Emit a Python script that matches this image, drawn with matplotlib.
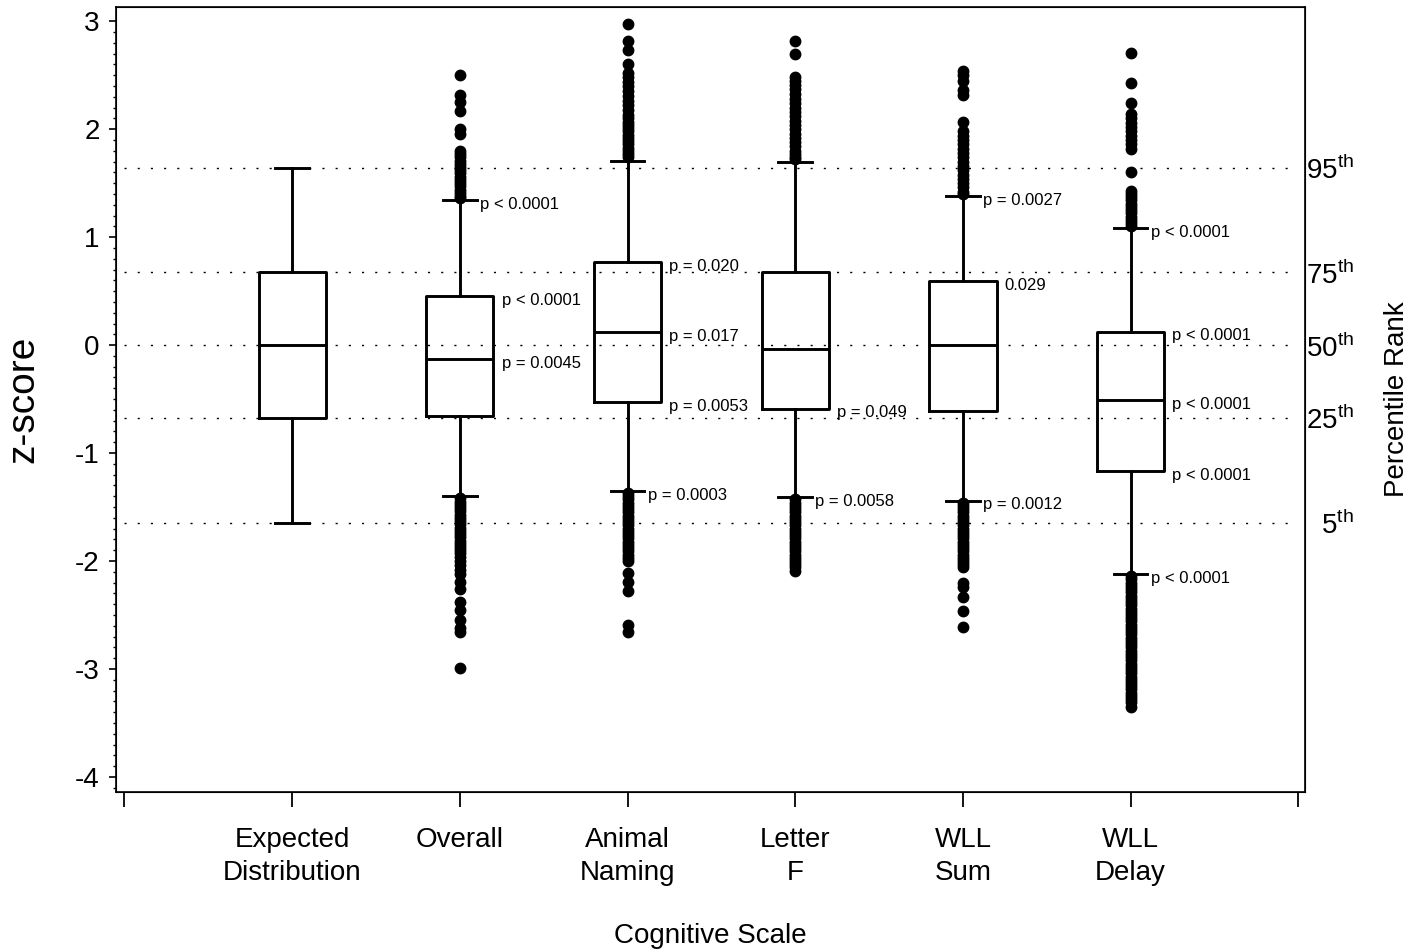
import matplotlib
matplotlib.use("Agg")
import matplotlib.pyplot as plt

plt.rcParams["font.family"] = ["Liberation Sans", "DejaVu Sans"]
plt.rcParams["mathtext.fontset"] = "custom"
plt.rcParams["mathtext.rm"] = "Liberation Sans"

# scales on the x axis (positions 1..6)
scales = ["Expected\nDistribution", "Overall", "Animal\nNaming", "Letter\nF", "WLL\nSum", "WLL\nDelay"]

# box statistics
whislo = [-1.645, -1.40, -1.35, -1.41, -1.44, -2.12]
q1 = [-0.674, -0.655, -0.53, -0.59, -0.61, -1.17]
med = [0.0, -0.13, 0.12, -0.04, 0.0, -0.51]
q3 = [0.674, 0.455, 0.77, 0.68, 0.59, 0.125]
whishi = [1.645, 1.345, 1.71, 1.70, 1.38, 1.085]

# outliers per scale
fliers_expected = []
fliers_overall = [2.50, 2.32, 2.25, 2.17, 2.00, 1.96, 1.80, 1.77, 1.74, 1.71, 1.68, 1.65,
                  1.62, 1.59, 1.56, 1.53, 1.50, 1.47, 1.44, 1.41, 1.38, 1.36,
                  -1.42, -1.45, -1.48, -1.51, -1.54, -1.57, -1.60, -1.63, -1.66, -1.69,
                  -1.72, -1.75, -1.78, -1.81, -1.84, -1.87, -1.90, -1.93, -1.96, -2.00,
                  -2.04, -2.08, -2.12, -2.19, -2.26, -2.38, -2.45, -2.55, -2.62, -2.66, -2.99]
fliers_animal = [2.97, 2.82, 2.73, 2.60, 2.52, 2.48, 2.44, 2.40, 2.35, 2.31, 2.26, 2.22,
                 2.18, 2.13, 2.10, 2.07, 2.04, 2.01, 1.98, 1.95, 1.92, 1.89, 1.86, 1.83,
                 1.80, 1.77, 1.74,
                 -1.37, -1.40, -1.43, -1.46, -1.49, -1.52, -1.55, -1.58, -1.61, -1.64,
                 -1.67, -1.70, -1.73, -1.76, -1.79, -1.82, -1.85, -1.88, -1.91, -1.94,
                 -1.97, -2.00, -2.11, -2.19, -2.28, -2.59, -2.66]
fliers_letter = [2.82, 2.70, 2.48, 2.45, 2.41, 2.37, 2.33, 2.28, 2.24, 2.20, 2.16, 2.12,
                 2.08, 2.04, 2.00, 1.96, 1.92, 1.88, 1.84, 1.80, 1.77, 1.74, 1.72,
                 -1.43, -1.46, -1.49, -1.52, -1.55, -1.58, -1.61, -1.64, -1.67, -1.70,
                 -1.73, -1.76, -1.79, -1.82, -1.85, -1.88, -1.91, -1.94, -1.97, -2.00,
                 -2.03, -2.06, -2.09]
fliers_sum = [2.54, 2.50, 2.45, 2.36, 2.32, 2.07, 1.98, 1.94, 1.90, 1.86, 1.82, 1.78,
              1.74, 1.70, 1.66, 1.62, 1.58, 1.54, 1.50, 1.46, 1.42, 1.40,
              -1.46, -1.49, -1.52, -1.55, -1.58, -1.61, -1.64, -1.67, -1.70, -1.73,
              -1.76, -1.79, -1.82, -1.85, -1.88, -1.91, -1.94, -1.97, -2.00, -2.03,
              -2.06, -2.20, -2.24, -2.33, -2.46, -2.61]
fliers_delay = [2.71, 2.43, 2.24, 2.14, 2.10, 2.06, 2.02, 1.98, 1.94, 1.90, 1.86, 1.82,
                1.60, 1.43, 1.40, 1.37, 1.34, 1.31, 1.28, 1.25, 1.22, 1.19, 1.16, 1.13, 1.10,
                -2.14, -2.17, -2.20, -2.23, -2.26, -2.29, -2.32, -2.35, -2.38, -2.41,
                -2.44, -2.47, -2.50, -2.53, -2.56, -2.59, -2.62, -2.65, -2.68, -2.71,
                -2.74, -2.77, -2.80, -2.83, -2.86, -2.89, -2.92, -2.95, -2.98, -3.01,
                -3.04, -3.07, -3.10, -3.13, -3.16, -3.19, -3.22, -3.25, -3.28, -3.31, -3.35]
fliers = [fliers_expected, fliers_overall, fliers_animal, fliers_letter, fliers_sum, fliers_delay]

# reference percentiles of the standard normal
pct_z = [1.645, 0.674, 0.0, -0.674, -1.645]
pct_labels = ["95", "75", "50", "25", "5"]

# p-value notes: (scale index, statistic, text)
notes = [
    (1, "whishi", "p < 0.0001"), (1, "q3", "p < 0.0001"), (1, "med", "p = 0.0045"),
    (2, "q3", "p = 0.020"), (2, "med", "p = 0.017"), (2, "q1", "p = 0.0053"),
    (2, "whislo", "p = 0.0003"),
    (3, "q1", "p = 0.049"), (3, "whislo", "p = 0.0058"),
    (4, "whishi", "p = 0.0027"), (4, "q3", "0.029"), (4, "whislo", "p = 0.0012"),
    (5, "whishi", "p < 0.0001"), (5, "q3", "p < 0.0001"), (5, "med", "p < 0.0001"),
    (5, "q1", "p < 0.0001"), (5, "whislo", "p < 0.0001"),
]

stats = []
for i in range(len(scales)):
    stats.append(dict(whislo=whislo[i], q1=q1[i], med=med[i], q3=q3[i],
                      whishi=whishi[i], fliers=fliers[i]))

fig = plt.figure(figsize=(14.24, 9.49), dpi=100)
ax = fig.add_axes([0.0815, 0.1654, 0.835, 0.827])
positions = list(range(1, len(scales) + 1))

for z in pct_z:
    ax.plot([0, 7], [z, z], color="black", lw=1.0, linestyle=(0, (1.5, 8)), zorder=1)

lw = 2.1
ax.bxp(stats, positions=positions, widths=0.4, capwidths=0.2, manage_ticks=False,
       boxprops=dict(color="black", linewidth=lw),
       whiskerprops=dict(color="black", linewidth=lw),
       capprops=dict(color="black", linewidth=lw),
       medianprops=dict(color="black", linewidth=lw),
       flierprops=dict(marker="o", markerfacecolor="black", markeredgecolor="black",
                       markersize=7.5, linestyle="none"),
       zorder=2)

for idx, stat, txt in notes:
    y = stats[idx][stat]
    dx = 14.5 if stat in ("whishi", "whislo") else 30
    ax.annotate(txt, xy=(positions[idx], y), xytext=(dx, -3), textcoords="offset points",
                ha="left", va="center", fontsize=12)

ax.set_xlim(-0.05, 7.04)
ax.set_ylim(-4.14, 3.13)
ax.set_xticks(range(0, 8))
ax.set_xticklabels([""] + scales + [""], fontsize=20, linespacing=1.35)
ax.set_yticks(range(-4, 4))
ax.set_yticklabels([str(v) for v in range(-4, 4)], fontsize=20)
ax.set_yticks([v / 10 for v in range(-41, 31)], minor=True)
ax.tick_params(axis="x", direction="out", length=10.5, width=1.3, pad=15)
ax.tick_params(axis="y", which="major", direction="out", length=4.8, width=1.2, pad=7)
ax.tick_params(axis="y", which="minor", direction="out", length=2.4, width=1.0)
for sp in ax.spines.values():
    sp.set_linewidth(1.2)
ax.set_xlabel("Cognitive Scale", fontsize=20, labelpad=26)
ax.set_ylabel("z-score", fontsize=28, labelpad=24)

ax2 = ax.twinx()
ax2.set_ylim(ax.get_ylim())
ax2.set_yticks(pct_z)
ax2.set_yticklabels([lab + r"$^{\mathrm{th}}$" for lab in pct_labels], fontsize=20)
ax2.tick_params(axis="y", length=0, pad=35)
for lab in ax2.get_yticklabels():
    lab.set_horizontalalignment("right")
ax2.set_ylabel("Percentile Rank", fontsize=20, labelpad=22)

fig.savefig("out.png", dpi=100)
